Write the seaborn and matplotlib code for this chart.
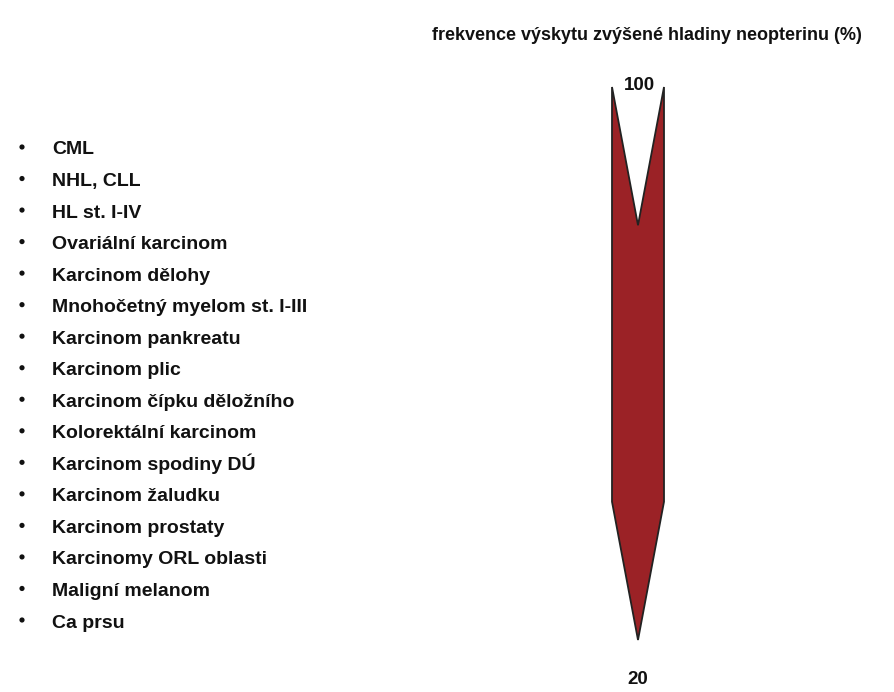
import matplotlib
matplotlib.use("Agg")
import matplotlib.pyplot as plt
import seaborn as sns
import pandas as pd
from matplotlib.patches import Polygon

categories = [
    "CML", "NHL, CLL", "HL st. I-IV", "Ovariální karcinom", "Karcinom dělohy",
    "Mnohočetný myelom st. I-III", "Karcinom pankreatu", "Karcinom plic",
    "Karcinom čípku děložního", "Kolorektální karcinom", "Karcinom spodiny DÚ",
    "Karcinom žaludku", "Karcinom prostaty", "Karcinomy ORL oblasti",
    "Maligní melanom", "Ca prsu",
]
scale_top = 100
scale_bottom = 20
notch_level = 80
shoulder_level = 40
title = "frekvence výskytu zvýšené hladiny neopterinu (%)"

sns.set_theme(style="white")
plt.rcParams['font.family'] = ['Liberation Sans', 'DejaVu Sans']

W, H = 895, 692
fig = plt.figure(figsize=(W / 100, H / 100), dpi=100)
fig.patch.set_facecolor("white")

# Arrow axes: x in pixels, y in frequency units
ax = fig.add_axes([0, 0, 1, 1])
ax.set_xlim(0, W)
f_top = (H - 87) / H
f_bot = (H - 640) / H
b = (scale_top - scale_bottom) / (f_top - f_bot)
a = scale_top - b * f_top
ax.set_ylim(a, a + b)
ax.axis("off")
px = (scale_top - scale_bottom) / (640 - 87)  # data units per pixel

xl, xr = 612, 664
xc = (xl + xr) / 2
poly = Polygon([(xl, scale_top), (xc, notch_level), (xr, scale_top),
                (xr, shoulder_level), (xc, scale_bottom), (xl, shoulder_level)],
               closed=True, facecolor="#9b2226", edgecolor="#222222", linewidth=1.3)
ax.add_patch(poly)
ax.text(xc + 1, scale_top + 1.5 * px, str(scale_top), ha="center", va="center",
        fontsize=13.5, fontweight="bold", color="#111111")
ax.text(xc, scale_bottom - 40 * px, str(scale_bottom), ha="center", va="center",
        fontsize=13.5, fontweight="bold", color="#111111")
fig.text(647 / W, 1 - 36 / H, title, ha="center", va="center",
         fontsize=13, fontweight="bold", color="#111111")

# List axes (categorical)
n = len(categories)
step = (620 - 147) / (n - 1)
top_px = 147 - step / 2
bot_px = 620 + step / 2
lax = fig.add_axes([0, (H - bot_px) / H, 400 / W, (bot_px - top_px) / H])
df = pd.DataFrame({"x": [22] * n, "item": categories})
sns.scatterplot(data=df, x="x", y="item", ax=lax, color="#111111", s=14,
                marker="o", edgecolor="none", legend=False)
lax.set_xlim(0, 400)
lax.set_ylim(n - 0.5, -0.5)
for i, name in enumerate(categories):
    lax.text(52, i + 7.5 / step, name, ha="left", va="baseline", fontsize=14,
             fontweight="bold", color="#111111")
lax.axis("off")

fig.savefig("out.png", dpi=100, facecolor="white")
